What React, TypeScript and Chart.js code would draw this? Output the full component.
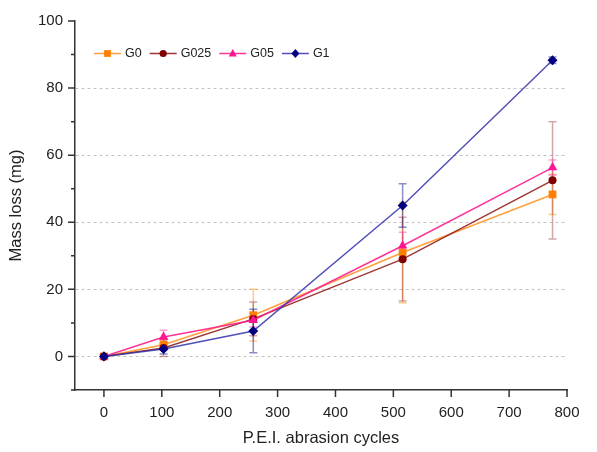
import React, { useEffect, useRef } from "react";
import { Chart, registerables } from "chart.js";

Chart.register(...registerables);

const xCycles = [0, 103, 258, 516, 775];
const seriesNames = ["G0", "G025", "G05", "G1"];
const g0 = [0, 3.5, 12.3, 31, 48.3];
const g0Err = [0.5, 1.5, 7.7, 15, 6];
const g025 = [0, 2.5, 11.2, 29, 52.5];
const g025Err = [0.5, 2.5, 5, 12.5, 17.5];
const g05 = [0, 5.8, 10.8, 33, 56.3];
const g05Err = [0.5, 2, 2, 4, 2.3];
const g1 = [0, 2.2, 7.6, 45, 88.3];
const g1Err = [0.5, 1.5, 6.5, 6.5, 1];
const xTickValues = [0, 100, 200, 300, 400, 500, 600, 700, 800];
const yTickValues = [-10, 0, 10, 20, 30, 40, 50, 60, 70, 80, 90, 100];

const FONT = "'Liberation Sans', Arial, sans-serif";

const styles = [
  { line: "rgba(255,150,40,0.9)", point: "#ff8000", err: "rgba(255,140,0,0.45)", shape: "rect", r: 5.5 },
  { line: "rgba(140,20,20,0.85)", point: "#800000", err: "rgba(128,0,0,0.35)", shape: "circle", r: 4 },
  { line: "rgba(255,30,140,0.9)", point: "#ff1493", err: "rgba(255,20,147,0.4)", shape: "triangle", r: 5.5 },
  { line: "rgba(50,50,170,0.85)", point: "#000080", err: "rgba(0,0,128,0.45)", shape: "rectRot", r: 5 },
];

function drawMarker(ctx: CanvasRenderingContext2D, shape: string, x: number, y: number, r: number, color: string) {
  ctx.save();
  ctx.fillStyle = color;
  ctx.beginPath();
  if (shape === "rect") {
    ctx.rect(x - r * 0.85, y - r * 0.85, r * 1.7, r * 1.7);
  } else if (shape === "circle") {
    ctx.arc(x, y, r * 0.9, 0, Math.PI * 2);
  } else if (shape === "triangle") {
    ctx.moveTo(x, y - r * 1.1);
    ctx.lineTo(x + r, y + r * 0.75);
    ctx.lineTo(x - r, y + r * 0.75);
    ctx.closePath();
  } else {
    ctx.moveTo(x, y - r * 1.1);
    ctx.lineTo(x + r * 1.0, y);
    ctx.lineTo(x, y + r * 1.1);
    ctx.lineTo(x - r * 1.0, y);
    ctx.closePath();
  }
  ctx.fill();
  ctx.restore();
}

const errorBarPlugin = {
  id: "errorBars",
  beforeDatasetsDraw(chart: any) {
    const ctx = chart.ctx;
    const xs = chart.scales.x;
    const ys = chart.scales.y;
    chart.data.datasets.forEach((ds: any) => {
      ctx.save();
      ctx.strokeStyle = ds.errColor;
      ctx.lineWidth = 1.5;
      ds.data.forEach((p: any, i: number) => {
        const e = ds.errors[i];
        const px = xs.getPixelForValue(p.x);
        const yTop = ys.getPixelForValue(p.y + e);
        const yBot = ys.getPixelForValue(p.y - e);
        ctx.beginPath();
        ctx.moveTo(px, yTop);
        ctx.lineTo(px, yBot);
        ctx.moveTo(px - 4, yTop);
        ctx.lineTo(px + 4, yTop);
        ctx.moveTo(px - 4, yBot);
        ctx.lineTo(px + 4, yBot);
        ctx.stroke();
      });
      ctx.restore();
    });
  },
};

const axisTickPlugin = {
  id: "axisTicks",
  afterDraw(chart: any) {
    const ctx = chart.ctx;
    const xs = chart.scales.x;
    const ys = chart.scales.y;
    const area = chart.chartArea;
    ctx.save();
    ctx.strokeStyle = "#333";
    ctx.lineWidth = 1.5;
    ctx.beginPath();
    yTickValues.forEach((v) => {
      const py = ys.getPixelForValue(v);
      const len = v % 20 === 0 ? 7 : 4;
      ctx.moveTo(area.left - len, py);
      ctx.lineTo(area.left, py);
    });
    xTickValues.forEach((v) => {
      const px = xs.getPixelForValue(v);
      ctx.moveTo(px, area.bottom);
      ctx.lineTo(px, area.bottom + 7);
    });
    ctx.stroke();
    ctx.restore();
  },
};

const legendPlugin = {
  id: "customLegend",
  afterDatasetsDraw(chart: any) {
    const ctx = chart.ctx;
    const area = chart.chartArea;
    const y = area.top + 32.5;
    let x = area.left + 19;
    ctx.save();
    ctx.font = `12.5px ${FONT}`;
    ctx.textBaseline = "middle";
    ctx.textAlign = "left";
    seriesNames.forEach((name, i) => {
      const st = styles[i];
      ctx.strokeStyle = st.line;
      ctx.lineWidth = 1.5;
      ctx.beginPath();
      ctx.moveTo(x, y);
      ctx.lineTo(x + 27, y);
      ctx.stroke();
      drawMarker(ctx, st.shape, x + 13.5, y, 4, st.point);
      ctx.fillStyle = "#222";
      ctx.fillText(name, x + 31, y + 0.5);
      x += 31 + ctx.measureText(name).width + 8;
    });
    ctx.restore();
  },
};

export default function App() {
  const canvasRef = useRef<HTMLCanvasElement | null>(null);

  useEffect(() => {
    document.body.style.margin = "0";
    const canvas = canvasRef.current;
    if (!canvas) return;
    const series = [g0, g025, g05, g1];
    const errs = [g0Err, g025Err, g05Err, g1Err];
    const datasets = series.map((vals, i) => ({
      label: seriesNames[i],
      data: xCycles.map((x, j) => ({ x, y: vals[j] })),
      errors: errs[i],
      errColor: styles[i].err,
      borderColor: styles[i].line,
      backgroundColor: styles[i].point,
      pointBackgroundColor: styles[i].point,
      pointBorderColor: styles[i].point,
      pointStyle: styles[i].shape,
      pointRadius: styles[i].r,
      pointBorderWidth: 0,
      borderWidth: 1.5,
      showLine: true,
      order: 3 - i,
    }));

    const chart = new Chart(canvas, {
      type: "scatter",
      data: { datasets } as any,
      options: {
        animation: false,
        responsive: true,
        maintainAspectRatio: false,
        layout: { padding: { top: 13, right: 30, left: 0, bottom: 0 } },
        plugins: {
          legend: { display: false },
          tooltip: { enabled: false },
        },
        scales: {
          x: {
            type: "linear",
            min: -50,
            max: 800,
            afterBuildTicks: (scale: any) => {
              scale.ticks = xTickValues.map((v) => ({ value: v }));
            },
            afterFit: (scale: any) => {
              scale.height = 62;
            },
            grid: { display: true, drawOnChartArea: false, drawTicks: false },
            border: { display: true, color: "#333", width: 1.5 },
            ticks: {
              padding: 14,
              color: "#222",
              font: { family: FONT, size: 15 },
              maxRotation: 0,
            },
            title: {
              display: true,
              text: "P.E.I. abrasion cycles",
              color: "#222",
              font: { family: FONT, size: 16.5 },
              padding: { top: 0, bottom: 4 },
            },
          },
          y: {
            type: "linear",
            min: -10,
            max: 100,
            afterBuildTicks: (scale: any) => {
              scale.ticks = yTickValues.map((v) => ({ value: v }));
            },
            afterFit: (scale: any) => {
              scale.width = 75;
            },
            grid: {
              drawTicks: false,
              color: (c: any) => {
                const v = c.tick ? c.tick.value : NaN;
                return v >= 0 && v < 100 && v % 20 === 0 ? "#c4c4c4" : "rgba(0,0,0,0)";
              },
              lineWidth: 1,
            },
            border: { display: true, color: "#333", width: 1.5, dash: [3, 3] } as any,
            ticks: {
              padding: 12,
              color: "#222",
              font: { family: FONT, size: 15 },
              callback: (v: any) => (Number(v) >= 0 && Number(v) % 20 === 0 ? String(v) : ""),
            },
            title: {
              display: true,
              text: "Mass loss (mg)",
              color: "#222",
              font: { family: FONT, size: 16.5 },
              padding: { top: 7, bottom: 0 },
            },
          },
        },
      } as any,
      plugins: [errorBarPlugin, axisTickPlugin, legendPlugin],
    });
    return () => chart.destroy();
  }, []);

  return (
    <div style={{ position: "relative", width: 597, height: 452 }}>
      <canvas ref={canvasRef} />
    </div>
  );
}
